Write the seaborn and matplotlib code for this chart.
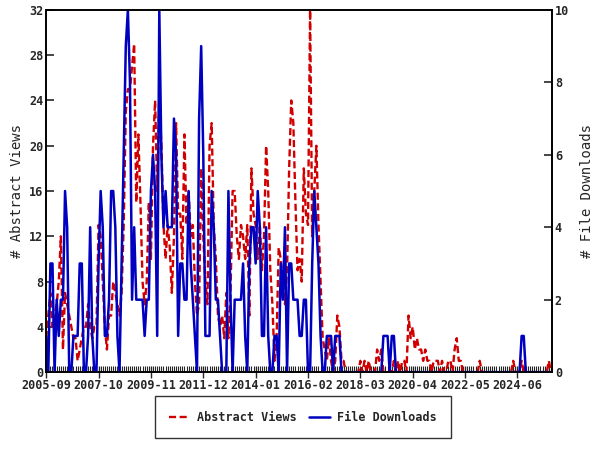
import numpy as np
import pandas as pd
import matplotlib
matplotlib.use('Agg')
import matplotlib.pyplot as plt
import seaborn as sns
from matplotlib.ticker import MultipleLocator, FixedLocator

# monthly counts from 2005-09 onwards
start_month = '2005-09'

abstract_views = [
    3, 5, 7, 4, 5, 6, 8, 12, 2, 7, 6, 5, 4, 3, 3, 1, 2, 3, 4, 4, 6, 4, 3, 4, 4, 13, 12, 8, 4, 2, 5, 5, 8, 7, 6,
    5, 7, 13, 23, 25, 25, 27, 29, 15, 21, 15, 8, 6, 8, 15, 10, 20, 24, 16, 24, 20, 13, 10, 13, 11, 7, 12, 22, 14, 14, 10, 21, 13, 16,
    12, 13, 8, 5, 6, 18, 12, 8, 6, 20, 22, 13, 10, 5, 4, 5, 3, 7, 3, 7, 16, 16, 12, 10, 13, 12, 10, 13, 5, 18, 14, 13, 10, 13,
    9, 12, 20, 16, 9, 6, 1, 3, 11, 10, 8, 6, 9, 18, 24, 22, 15, 9, 10, 8, 18, 14, 13, 32, 12, 16, 20, 13, 8, 3, 2, 1, 3, 1, 0,
    1, 5, 4, 1, 1, 0, 0, 0, 0, 0, 0, 0, 1, 0, 1, 0, 1, 0, 0, 0, 2, 1, 2, 0, 0, 0, 0, 0, 1, 0,
    1, 0, 1, 1, 0, 5, 3, 4, 2, 3, 2, 2, 1, 2, 1, 1, 0, 1, 1,
    1, 0, 1, 0, 0, 1, 1, 0, 2, 3, 1, 1, 0, 0, 0, 0, 0, 0, 0, 0, 1,
    0, 0, 0, 0, 0, 0, 0, 0, 0, 0, 0, 0, 0, 0, 0, 1, 0, 0, 0, 1,
    0, 0, 0, 0, 0, 0, 0, 0, 0, 0, 0, 0, 1, 0,
]

file_downloads = [
    1, 0, 3, 3, 0, 2, 1, 2, 2, 5, 4, 0, 0, 1, 1, 1, 3, 3, 0, 0, 1, 4, 1, 0, 0, 3, 5, 4, 1, 1, 2, 5, 5, 4, 1,
    0, 3, 6, 9, 10, 8, 2, 4, 2, 2, 2, 2, 1, 2, 2, 5, 6, 5, 1, 10, 6, 4, 5, 4, 4, 4, 7, 6, 1, 3, 3, 2, 2, 5,
    3, 2, 1, 0, 7, 9, 6, 1, 1, 1, 5, 4, 2, 2, 1, 0, 0, 0, 5, 2, 0, 2, 2, 2, 2, 3, 1, 0, 3, 4, 4, 3, 5, 4,
    1, 1, 4, 1, 0, 0, 1, 1, 0, 3, 2, 4, 0, 3, 3, 2, 2, 2, 1, 1, 2, 2, 0, 0, 3, 5, 4, 3, 1, 0, 0, 1, 1, 1, 0,
    1, 1, 1, 0, 0, 0, 0, 0, 0, 0, 0, 0, 0, 0, 0, 0, 0, 0, 0, 0, 0, 0, 0, 1, 1, 1, 0, 1, 1, 0,
    0, 0, 0, 0, 0, 0, 0, 0, 0, 0, 0, 0, 0, 0, 0, 0, 0, 0, 0,
    0, 0, 0, 0, 0, 0, 0, 0, 0, 0, 0, 0, 0, 0, 0, 0, 0, 0, 0, 0, 0,
    0, 0, 0, 0, 0, 0, 0, 0, 0, 0, 0, 0, 0, 0, 0, 0, 0, 0, 0, 1,
    1, 0, 0, 0, 0, 0, 0, 0, 0, 0, 0, 0, 0, 0,
]

n = len(abstract_views)
months = pd.period_range(start_month, periods=n, freq='M')
df = pd.DataFrame({
    'idx': np.arange(n),
    'views': abstract_views,
    'downloads': file_downloads[:n],
})
tick_pos = list(range(0, n, 25))
tick_labels = [months[i].strftime('%Y-%m') for i in tick_pos]

sns.set_style('ticks')
plt.rcParams['font.family'] = ['DejaVu Sans Mono']
plt.rcParams['font.weight'] = 'bold'

red = '#d00000'
blue = '#0000c0'

fig = plt.figure(figsize=(6, 4.5), dpi=100)
ax = fig.add_axes([0.077, 0.173, 0.843, 0.805])
ax2 = ax.twinx()

sns.lineplot(data=df, x='idx', y='views', ax=ax, color=red, lw=1.7,
             linestyle=(0, (3, 1.5)), label='Abstract Views', legend=False)
sns.lineplot(data=df, x='idx', y='downloads', ax=ax2, color=blue, lw=1.8,
             label='File Downloads', legend=False)

ax.set_xlim(0, 241.5)
ax.set_ylim(0, 32)
ax2.set_ylim(0, 10)
ax.yaxis.set_major_locator(MultipleLocator(4))
ax2.yaxis.set_major_locator(MultipleLocator(2))
ax.xaxis.set_major_locator(FixedLocator(tick_pos))
ax.xaxis.set_minor_locator(MultipleLocator(1))
ax.set_xticklabels(tick_labels)

for a in (ax, ax2):
    for s in a.spines.values():
        s.set_linewidth(1.2)
        s.set_color('black')
ax.tick_params(axis='x', which='major', direction='inout', length=8, width=1, labelsize=8.5, pad=1)
ax.tick_params(axis='x', which='minor', direction='in', length=4, width=0.8)
ax.tick_params(axis='y', direction='in', length=6, width=1.2, labelsize=8.5, pad=2)
ax2.tick_params(axis='y', direction='in', length=6, width=1.2, labelsize=8.5, pad=2)

ax.set_xlabel('')
ax.set_ylabel('# Abstract Views', fontsize=10, labelpad=4)
ax2.set_ylabel('# File Downloads', fontsize=10, labelpad=8)

h1, l1 = ax.get_legend_handles_labels()
h2, l2 = ax2.get_legend_handles_labels()
leg = fig.legend(h1 + h2, l1 + l2, loc='center', bbox_to_anchor=(0.505, 0.073),
                 ncol=2, fontsize=8.5, frameon=True, fancybox=False,
                 handlelength=1.8, handletextpad=0.6, columnspacing=1.0,
                 borderpad=1.2, borderaxespad=0)
leg.get_frame().set_edgecolor('black')
leg.get_frame().set_linewidth(1.0)

fig.savefig('out.png', dpi=100)
